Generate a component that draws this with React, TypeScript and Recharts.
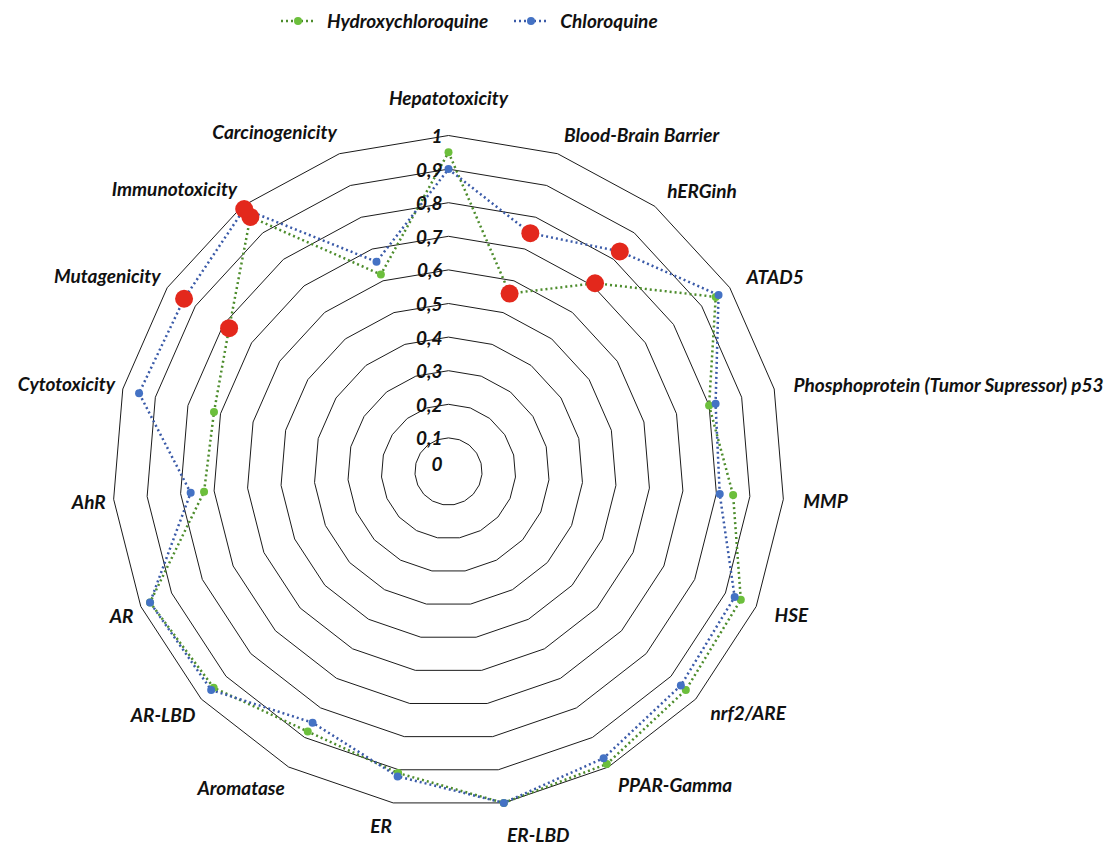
import React from 'react';
import { RadarChart, Radar, PolarGrid, PolarAngleAxis, PolarRadiusAxis } from 'recharts';

const categories = [
  'Hepatotoxicity',
  'Blood-Brain Barrier',
  'hERGinh',
  'ATAD5',
  'Phosphoprotein (Tumor Supressor) p53',
  'MMP',
  'HSE',
  'nrf2/ARE',
  'PPAR-Gamma',
  'ER-LBD',
  'ER',
  'Aromatase',
  'AR-LBD',
  'AR',
  'AhR',
  'Cytotoxicity',
  'Mutagenicity',
  'Immunotoxicity',
  'Carcinogenicity',
];

const hydroxychloroquine = [0.95, 0.56, 0.71, 0.95, 0.8, 0.85, 0.95, 0.96, 0.99, 1.0, 0.91, 0.88, 0.95, 0.97, 0.73, 0.72, 0.78, 0.96, 0.62];
const chloroquine = [0.9, 0.75, 0.83, 0.96, 0.82, 0.81, 0.93, 0.94, 0.97, 1.0, 0.92, 0.85, 0.96, 0.97, 0.77, 0.95, 0.94, 0.99, 0.66];

// predicted "active" endpoints, highlighted in red
const hydroxychloroquineActive = [false, true, true, false, false, false, false, false, false, false, false, false, false, false, false, false, true, true, false];
const chloroquineActive = [false, true, true, false, false, false, false, false, false, false, false, false, false, false, false, false, true, true, false];

// radius axis works on integers (recharts 3 radius axis has no decimal ticks),
// so probabilities are plotted in percent and labelled back as 0..1
const data = categories.map((name, i) => ({
  name,
  hcq: hydroxychloroquine[i] * 100,
  cq: chloroquine[i] * 100,
}));

const W = 1108;
const H = 845;
const CX = 448.5;
const CY = 471.5;
const R = 336;

const GREEN_LINE = '#4d8c2c';
const GREEN_DOT = '#6cbf3c';
const BLUE_LINE = '#3a5aa8';
const BLUE_DOT = '#4472c4';
const RED = '#e3281c';

const FONT = 'Lato, "Open Sans", sans-serif';

const labelStyle: React.CSSProperties = {
  fontFamily: FONT,
  fontWeight: 700,
  fontStyle: 'italic',
  fontSize: 19,
  fill: '#111',
};

const fmt = (v: number) => String(Math.round(v / 10) / 10).replace('.', ',');

function RadiusTick(props: any) {
  const { x, y, payload } = props;
  const v = payload.value;
  return (
    <text x={x - 6} y={v === 0 ? y - 8 : y} textAnchor="end" dominantBaseline="central" style={labelStyle}>
      {fmt(v)}
    </text>
  );
}

function AngleTick(props: any) {
  const { payload } = props;
  const a = (payload.coordinate * Math.PI) / 180;
  const s = Math.cos(a);
  const c = Math.sin(a);
  let anchor: 'start' | 'middle' | 'end';
  let tx: number;
  let ty: number;
  if (Math.abs(s) < 0.1) {
    anchor = 'middle';
    tx = CX + (R + 20) * s;
    ty = CY - (R + 20) * c + (c > 0 ? -18 : 12);
  } else if (s > 0) {
    anchor = 'start';
    tx = CX + (R + 20) * s;
    ty = CY - (R + 20) * c + (c < -0.9 ? 12 : 0);
  } else {
    anchor = 'end';
    tx = CX + (R + 8) * s;
    ty = CY - (R + 8) * c - 15 * c;
  }
  return (
    <text x={tx} y={ty} textAnchor={anchor} dominantBaseline="central" style={labelStyle}>
      {payload.value}
    </text>
  );
}

const makeDot = (color: string, active: boolean[]) => (p: any) => {
  const { cx, cy, index } = p;
  if (active[index]) {
    return <circle key={`a-${index}`} cx={cx} cy={cy} r={9} fill={RED} />;
  }
  return <circle key={`d-${index}`} cx={cx} cy={cy} r={4} fill={color} />;
};

function LegendItem({ line, dot, label }: { line: string; dot: string; label: string }) {
  return (
    <div style={{ display: 'flex', alignItems: 'center' }}>
      <svg width={36} height={12}>
        <line x1={1} y1={6} x2={35} y2={6} stroke={line} strokeWidth={2.5} strokeDasharray="2 3" />
        <circle cx={18} cy={6} r={4} fill={dot} />
      </svg>
      <span
        style={{
          marginLeft: 11,
          fontFamily: FONT,
          fontWeight: 700,
          fontStyle: 'italic',
          fontSize: 19,
          color: '#111',
        }}
      >
        {label}
      </span>
    </div>
  );
}

export default function App() {
  return (
    <div style={{ position: 'absolute', left: 0, top: 0, width: W, height: H, background: '#fff', overflow: 'hidden' }}>
      <div style={{ position: 'absolute', left: 280, top: 9, display: 'flex', gap: 25 }}>
        <LegendItem line={GREEN_LINE} dot={GREEN_DOT} label="Hydroxychloroquine" />
        <LegendItem line={BLUE_LINE} dot={BLUE_DOT} label="Chloroquine" />
      </div>
      <RadarChart
        width={W}
        height={H}
        data={data}
        cx={CX}
        cy={CY}
        outerRadius={R}
        margin={{ top: 0, right: 0, bottom: 0, left: 0 }}
        style={{ position: 'absolute', left: 0, top: 0 }}
      >
        <PolarGrid gridType="polygon" radialLines={false} stroke="#1b1b1b" strokeWidth={1} />
        <PolarAngleAxis dataKey="name" tick={<AngleTick />} tickLine={false} axisLine={false} />
        <PolarRadiusAxis
          angle={90}
          domain={[0, 100]}
          tickCount={11}
          type="number"
          axisLine={false}
          tickLine={false}
          tick={<RadiusTick />}
        />
        <Radar
          name="Hydroxychloroquine"
          dataKey="hcq"
          stroke={GREEN_LINE}
          strokeWidth={2.5}
          strokeDasharray="2 3"
          fill="none"
          dot={makeDot(GREEN_DOT, hydroxychloroquineActive)}
          isAnimationActive={false}
        />
        <Radar
          name="Chloroquine"
          dataKey="cq"
          stroke={BLUE_LINE}
          strokeWidth={2.5}
          strokeDasharray="2 3"
          fill="none"
          dot={makeDot(BLUE_DOT, chloroquineActive)}
          isAnimationActive={false}
        />
      </RadarChart>
    </div>
  );
}
